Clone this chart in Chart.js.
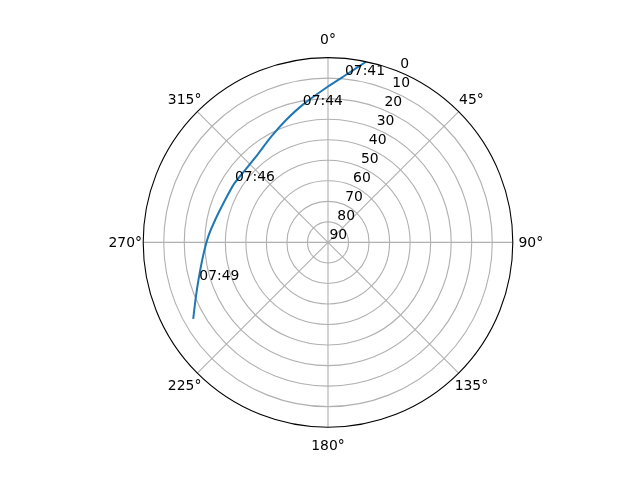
<!DOCTYPE html>
<html><head><meta charset="utf-8">
<script src="https://cdn.jsdelivr.net/npm/chart.js@4.4.1/dist/chart.umd.min.js"></script>
<style>html,body{margin:0;padding:0;background:#fff}canvas{display:block}</style>
</head><body>
<canvas id="c" width="640" height="480"></canvas>
<script>
// Satellite pass: azimuth (deg, clockwise from north) and elevation (deg)
const azimuth   = [11.9, 5.8, 0.0, 349.7, 341.1, 331.6, 321.6, 311.1, 301.9, 292.4, 282.3, 273.1, 263.8, 253.8, 246.5, 240.4];
const elevation = [0.1, 8.3, 14.1, 21.8, 27.0, 31.6, 35.1, 36.4, 36.1, 35.8, 34.2, 31.7, 28.8, 24.3, 19.6, 14.5];
// Time annotations
const timeLabels = ['07:41', '07:44', '07:46', '07:49'];
const labelAz    = [5.8, 349.6, 303.4, 253.7];
const labelEl    = [8.1, 22.0, 35.7, 24.7];
// Axis ticks
const thetaTicks = [0, 45, 90, 135, 180, 225, 270, 315];
const radialTicks = [0, 10, 20, 30, 40, 50, 60, 70, 80, 90];

const R_MAX = 90;
function toXY(az, el) {
  const r = R_MAX - el;
  const a = az * Math.PI / 180;
  return { x: r * Math.sin(a), y: r * Math.cos(a) };
}

const FONT = '13.9px "DejaVu Sans"';

const polarPlugin = {
  id: 'polarGrid',
  beforeDatasetsDraw(chart) {
    const c = chart.ctx, xs = chart.scales.x, ys = chart.scales.y;
    const cx = xs.getPixelForValue(0), cy = ys.getPixelForValue(0);
    const k = xs.getPixelForValue(1) - cx;
    c.save();
    c.fillStyle = '#fff';
    c.fillRect(0, 0, chart.width, chart.height);
    c.strokeStyle = '#b0b0b0';
    c.lineWidth = 1.1;
    radialTicks.forEach(t => {
      const r = (R_MAX - t) * k;
      if (r <= 0 || t === 0) return;
      c.beginPath(); c.arc(cx, cy, r, 0, Math.PI * 2); c.stroke();
    });
    thetaTicks.forEach(t => {
      const p = toXY(t, 0);
      c.beginPath(); c.moveTo(cx, cy);
      c.lineTo(xs.getPixelForValue(p.x), ys.getPixelForValue(p.y)); c.stroke();
    });
    c.restore();
  },
  afterDatasetsDraw(chart) {
    const c = chart.ctx, xs = chart.scales.x, ys = chart.scales.y;
    const cx = xs.getPixelForValue(0), cy = ys.getPixelForValue(0);
    const k = xs.getPixelForValue(1) - cx;
    c.save();
    c.strokeStyle = '#000'; c.lineWidth = 1.1;
    c.beginPath(); c.arc(cx, cy, R_MAX * k, 0, Math.PI * 2); c.stroke();
    c.fillStyle = '#000';
    c.font = FONT;
    c.textAlign = 'center'; c.textBaseline = 'middle';
    thetaTicks.forEach(t => {
      const a = t * Math.PI / 180, d = R_MAX * k + 18;
      c.fillText(t + '°', cx + d * Math.sin(a), cy - d * Math.cos(a) + 1);
    });
    c.textAlign = 'left'; c.textBaseline = 'alphabetic';
    radialTicks.forEach(t => {
      const p = toXY(22.5, t);
      c.fillText(String(t), xs.getPixelForValue(p.x) + 1.5, ys.getPixelForValue(p.y) - 3.5);
    });
    timeLabels.forEach((s, i) => {
      const p = toXY(labelAz[i], labelEl[i]);
      c.fillText(s, xs.getPixelForValue(p.x), ys.getPixelForValue(p.y));
    });
    c.restore();
  }
};

new Chart(document.getElementById('c').getContext('2d'), {
  type: 'scatter',
  data: {
    datasets: [{
      data: azimuth.map((a, i) => toXY(a, elevation[i])),
      showLine: true,
      borderColor: '#1f77b4',
      borderWidth: 2,
      pointRadius: 0,
      tension: 0.2,
      fill: false
    }]
  },
  options: {
    responsive: false,
    animation: false,
    devicePixelRatio: 1,
    layout: { padding: { left: 143.2, right: 127.2, top: 57.6, bottom: 52.8 } },
    scales: {
      x: { type: 'linear', min: -90, max: 90, display: false },
      y: { type: 'linear', min: -90, max: 90, display: false }
    },
    plugins: { legend: { display: false }, tooltip: { enabled: false } },
    events: []
  },
  plugins: [polarPlugin]
});
</script>
</body></html>
